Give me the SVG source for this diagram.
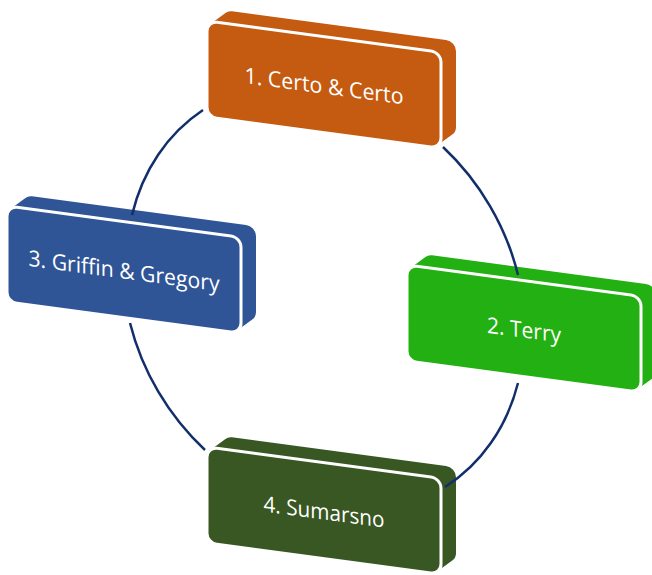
<svg xmlns="http://www.w3.org/2000/svg" xmlns:xlink="http://www.w3.org/1999/xlink" width="652" height="575" viewBox="0 0 652 575">
  <style>
    .face { stroke: #ffffff; stroke-width: 3; }
    .label { fill: #ffffff; font-family: "Open Sans", "Liberation Sans", sans-serif; font-size: 22px; text-anchor: middle; }
    .link { fill: none; stroke: #132f6b; stroke-width: 2.5; }
  </style>
  <defs>
    <!-- silhouette of the extruded slab: front face swept up and to the right -->
    <path id="slab" d="M0,86 L0,10 A10,10 0 0 1 3.45,2.44 L18.45,-10.56 A10,10 0 0 1 25,-13 L239,-13 A10,10 0 0 1 249,-3 L249,73 A10,10 0 0 1 245.55,80.56 L230.55,93.56 A10,10 0 0 1 224,96 L10,96 A10,10 0 0 1 0,86 Z"/>
    <!-- front face of a slab -->
    <rect id="face" width="234" height="96" rx="10" ry="10"/>
  </defs>

  <g id="node-1" transform="translate(207 21) skewY(7.6)" fill="#c55a11">
    <use href="#slab"/>
    <use href="#face" class="face"/>
    <text class="label" x="117" y="57" textLength="159" lengthAdjust="spacingAndGlyphs">1. Certo &amp; Certo</text>
  </g>

  <g id="node-2" transform="translate(407 265) skewY(7.6)" fill="#23b012">
    <use href="#slab"/>
    <use href="#face" class="face"/>
    <text class="label" x="117" y="57" textLength="74" lengthAdjust="spacingAndGlyphs">2. Terry</text>
  </g>

  <g id="node-3" transform="translate(7 206) skewY(7.6)" fill="#2f5597">
    <use href="#slab"/>
    <use href="#face" class="face"/>
    <text class="label" x="117" y="57" textLength="191" lengthAdjust="spacingAndGlyphs">3. Griffin &amp; Gregory</text>
  </g>

  <g id="node-4" transform="translate(207 447) skewY(7.6)" fill="#385723">
    <use href="#slab"/>
    <use href="#face" class="face"/>
    <text class="label" x="117" y="57" textLength="121" lengthAdjust="spacingAndGlyphs">4. Sumarsno</text>
  </g>

  <!-- cycle arcs: pieces of one tilted ellipse centred at (324,299) -->
  <g id="connectors">
    <path class="link" d="M443,147 A224.4,189.7 56 0 1 518,275"/>
    <path class="link" d="M518,383 A224.4,189.7 56 0 1 445,487"/>
    <path class="link" d="M205,450 A224.4,189.7 56 0 1 130,323"/>
    <path class="link" d="M132,215 A224.4,189.7 56 0 1 203,110"/>
  </g>
</svg>
